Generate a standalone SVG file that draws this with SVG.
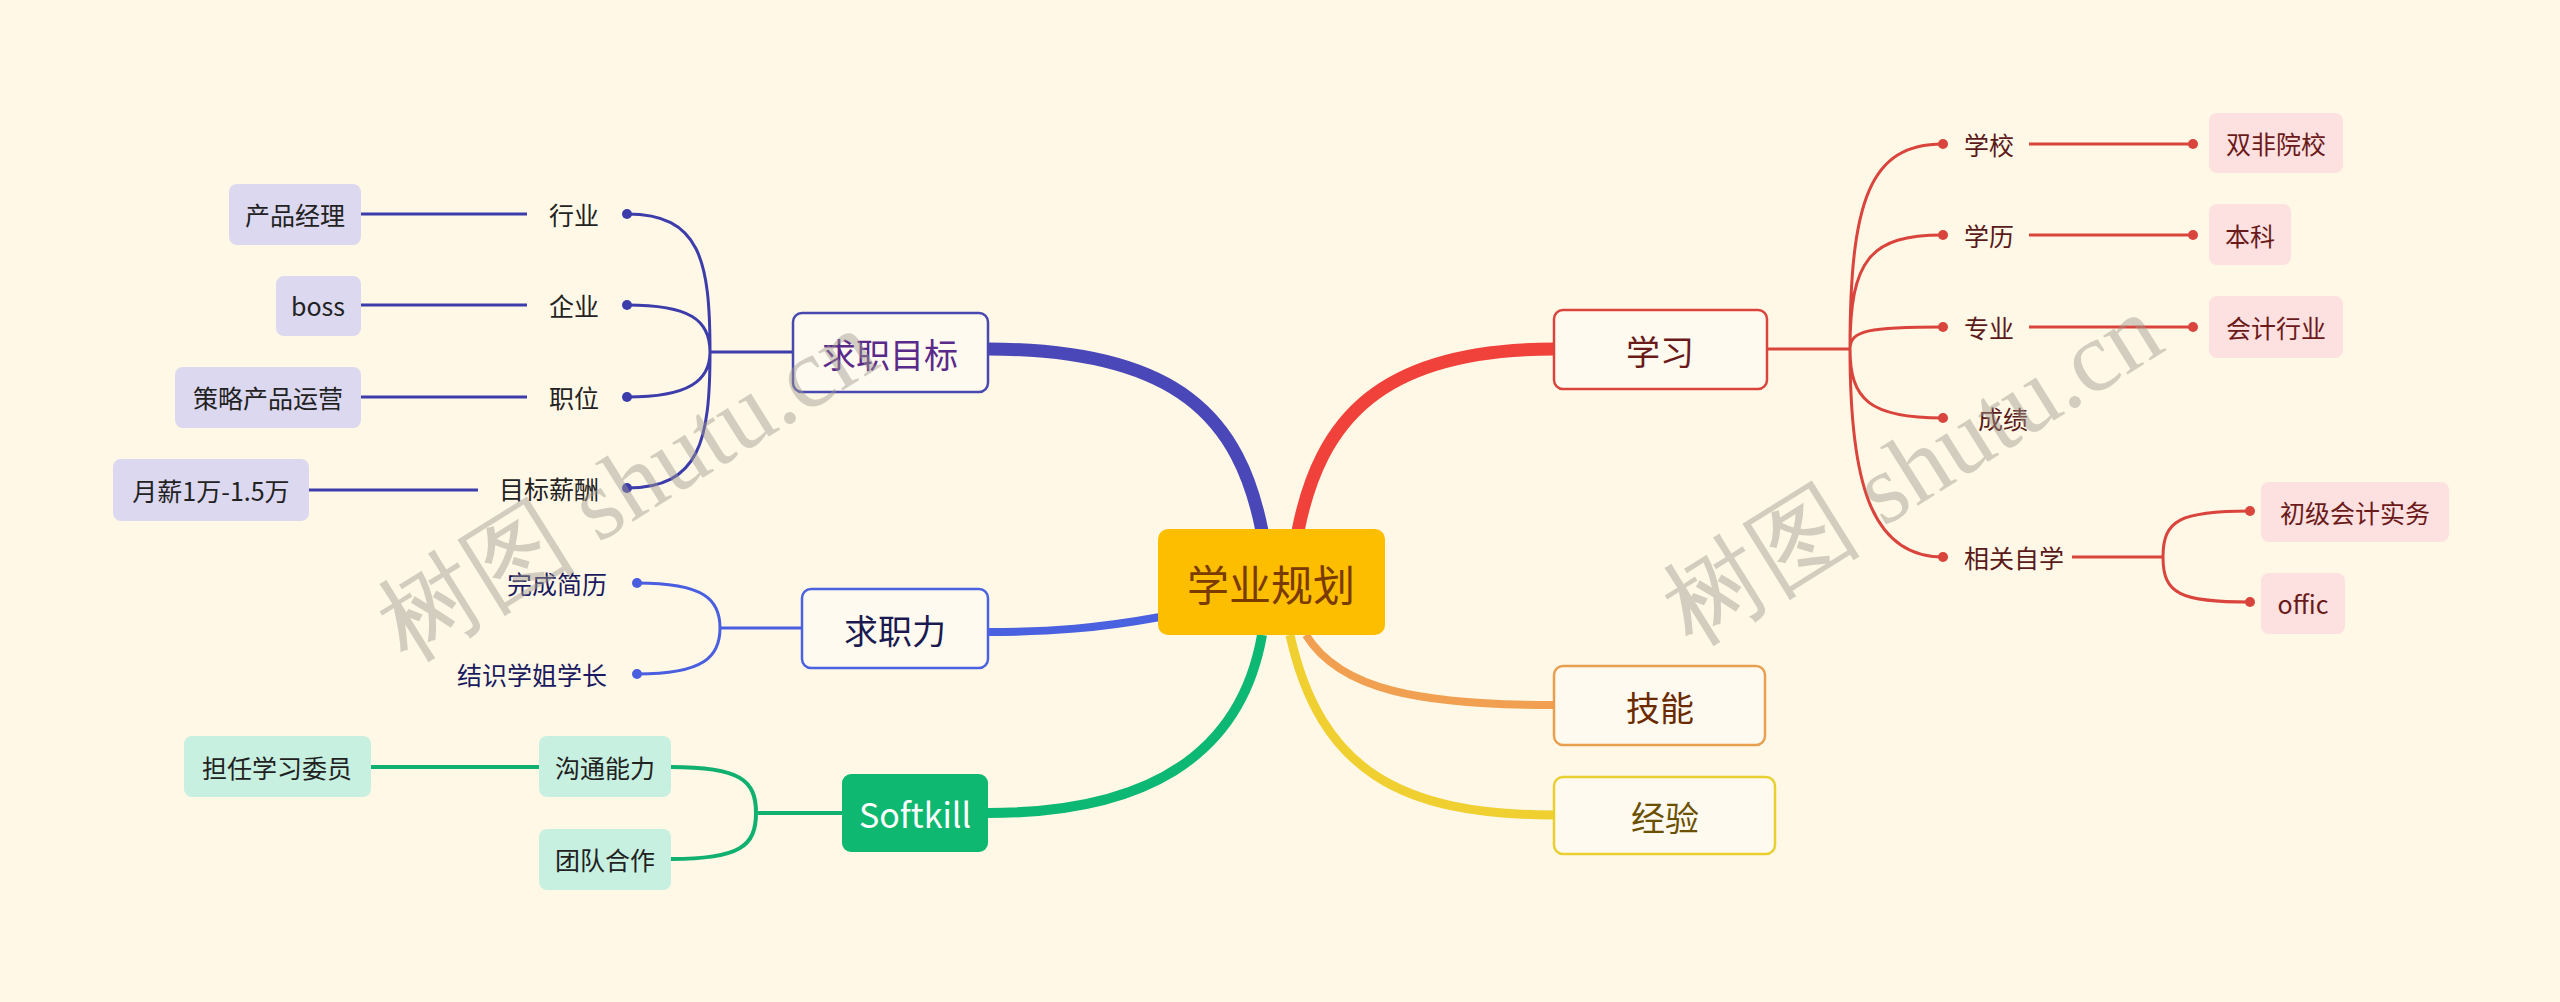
<svg xmlns="http://www.w3.org/2000/svg" width="2560" height="1002" viewBox="0 0 2560 1002">
<style>
text{font-family:"Noto Sans CJK SC","Liberation Sans",sans-serif;dominant-baseline:central}
.m{fill:#fffaf0;stroke-width:2.5}
.t{font-size:34px;text-anchor:middle}
.s{font-size:25px}
.r{stroke:#d9443c;stroke-width:3;fill:none}
.p{stroke:#3c3cab;stroke-width:3;fill:none}
.b{stroke:#4a5ee0;stroke-width:3;fill:none}
.g{stroke:#10b070;stroke-width:4;fill:none}
.lp{fill:#fde0e0}.lv{fill:#dcd8f0}.lg{fill:#c8f0e0}
.wm{font-family:"Liberation Serif",serif;font-size:100px;fill:#a09a90;opacity:0.45;dominant-baseline:auto}
</style>
<rect width="2560" height="1002" fill="#fff8e6"/>
<g id="connectors">
<path d="M1298,531 C1320,420 1380,349 1554,349" stroke="#f0413a" stroke-width="13" fill="none"/>
<path d="M1262,531 C1240,420 1180,349 988,349" stroke="#4a48b8" stroke-width="13" fill="none"/>
<path d="M1160,617 C1100,628 1050,632 988,632" stroke="#4a62e0" stroke-width="8" fill="none"/>
<path d="M1262,635 C1240,760 1140,813 988,813" stroke="#0db874" stroke-width="10" fill="none"/>
<path d="M1306,635 C1340,690 1420,705 1554,705" stroke="#f0a050" stroke-width="8" fill="none"/>
<path d="M1290,635 C1320,770 1400,815 1554,815" stroke="#f0d030" stroke-width="9" fill="none"/>
<path class="r" d="M1767,349 H1850 M1850,349 C1850,200 1870,144 1943,144 M1850,349 C1850,260 1870,235 1943,235 M1850,349 C1850,330 1870,327 1943,327 M1850,349 C1850,400 1870,418 1943,418 M1850,349 C1850,480 1870,557 1943,557"/>
<path class="r" d="M2029,144 H2193 M2029,235 H2193 M2029,327 H2193 M2072,557 H2163 C2163,520 2180,511 2250,511 M2163,557 C2163,594 2180,602 2250,602"/>
<g fill="#d9443c"><circle cx="1943" cy="144" r="5"/><circle cx="1943" cy="235" r="5"/><circle cx="1943" cy="327" r="5"/><circle cx="1943" cy="418" r="5"/><circle cx="1943" cy="557" r="5"/><circle cx="2193" cy="144" r="5"/><circle cx="2193" cy="235" r="5"/><circle cx="2193" cy="327" r="5"/><circle cx="2250" cy="511" r="5"/><circle cx="2250" cy="602" r="5"/></g>
<path class="p" d="M793,352 H710 M710,352 C710,260 700,214 627,214 M710,352 C710,320 690,305 627,305 M710,352 C710,380 690,397 627,397 M710,352 C710,440 700,488 627,488 M361,214 H527 M361,305 H527 M361,397 H527 M309,490 H478"/>
<g fill="#3c3cab"><circle cx="627" cy="214" r="5"/><circle cx="627" cy="305" r="5"/><circle cx="627" cy="397" r="5"/><circle cx="627" cy="488" r="5"/></g>
<path class="b" d="M802,628 H720 M720,628 C720,600 705,583 637,583 M720,628 C720,656 705,674 637,674"/>
<g fill="#4a5ee0"><circle cx="637" cy="583" r="5"/><circle cx="637" cy="674" r="5"/></g>
<path class="g" d="M842,813 H756 M756,813 C756,780 740,767 671,767 M756,813 C756,846 740,859 671,859 M371,767 H539"/>
</g>
<g id="center"><rect x="1158" y="529" width="227" height="106" rx="10" fill="#fdbe00"/><text x="1271" y="582" class="t" style="font-size:42px" fill="#7a3b00">学业规划</text></g>
<g id="xuexi"><rect class="m" x="1554" y="310" width="213" height="79" rx="9" stroke="#d9443c"/><text x="1660" y="350" class="t" fill="#6b1a1a">学习</text></g>
<g id="jineng"><rect class="m" x="1554" y="666" width="211" height="79" rx="9" stroke="#e8a050"/><text x="1660" y="706" class="t" fill="#6b2a00">技能</text></g>
<g id="jingyan"><rect class="m" x="1554" y="777" width="221" height="77" rx="9" stroke="#e8d030"/><text x="1665" y="816" class="t" fill="#6b5000">经验</text></g>
<g id="mubiao"><rect class="m" x="793" y="313" width="195" height="79" rx="9" stroke="#4848b0"/><text x="890" y="353" class="t" fill="#5a2a8a">求职目标</text></g>
<g id="zhiye"><rect class="m" x="802" y="589" width="186" height="79" rx="9" stroke="#4a62e0"/><text x="895" y="629" class="t" fill="#1a1a50">求职力</text></g>
<g id="softkill"><rect x="842" y="774" width="146" height="78" rx="9" fill="#0fb870"/><text x="915" y="813" class="t" fill="#fff">Softkill</text></g>
<g id="r-labels" class="s" fill="#5a1a1a"><text x="1964" y="144">学校</text><text x="1964" y="235">学历</text><text x="1964" y="327">专业</text><text x="1978" y="418">成绩</text><text x="1964" y="557">相关自学</text></g>
<g id="r-leaves" class="s" fill="#6b1a1a">
<rect class="lp" x="2209" y="113" width="134" height="60" rx="8"/><text x="2276" y="143" text-anchor="middle">双非院校</text>
<rect class="lp" x="2209" y="204" width="82" height="61" rx="8"/><text x="2250" y="235" text-anchor="middle">本科</text>
<rect class="lp" x="2209" y="296" width="134" height="62" rx="8"/><text x="2276" y="327" text-anchor="middle">会计行业</text>
<rect class="lp" x="2261" y="482" width="188" height="60" rx="8"/><text x="2355" y="512" text-anchor="middle">初级会计实务</text>
<rect class="lp" x="2261" y="573" width="84" height="61" rx="8"/><text x="2303" y="603" text-anchor="middle">offic</text>
</g>
<g id="l-labels" class="s" fill="#222" text-anchor="end"><text x="599" y="214">行业</text><text x="599" y="305">企业</text><text x="599" y="397">职位</text><text x="599" y="488">目标薪酬</text></g>
<g id="l-leaves" class="s" fill="#222" text-anchor="middle">
<rect class="lv" x="229" y="184" width="132" height="61" rx="8"/><text x="295" y="214">产品经理</text>
<rect class="lv" x="276" y="276" width="85" height="60" rx="8"/><text x="318" y="305">boss</text>
<rect class="lv" x="175" y="367" width="186" height="61" rx="8"/><text x="268" y="397">策略产品运营</text>
<rect class="lv" x="113" y="459" width="196" height="62" rx="8"/><text x="211" y="490">月薪1万-1.5万</text>
</g>
<g id="zhiye-labels" class="s" fill="#1a1a60" text-anchor="end"><text x="607" y="583">完成简历</text><text x="607" y="674">结识学姐学长</text></g>
<g id="soft-leaves" class="s" fill="#222" text-anchor="middle">
<rect class="lg" x="539" y="736" width="132" height="61" rx="8"/><text x="605" y="767">沟通能力</text>
<rect class="lg" x="539" y="829" width="132" height="61" rx="8"/><text x="605" y="859">团队合作</text>
<rect class="lg" x="184" y="736" width="187" height="61" rx="8"/><text x="277" y="767">担任学习委员</text>
</g>
<text class="wm" x="645" y="514" text-anchor="middle" transform="rotate(-32 645 514)">树图 shutu.cn</text>
<text class="wm" x="1930" y="498" text-anchor="middle" transform="rotate(-32 1930 498)">树图 shutu.cn</text>
</svg>
